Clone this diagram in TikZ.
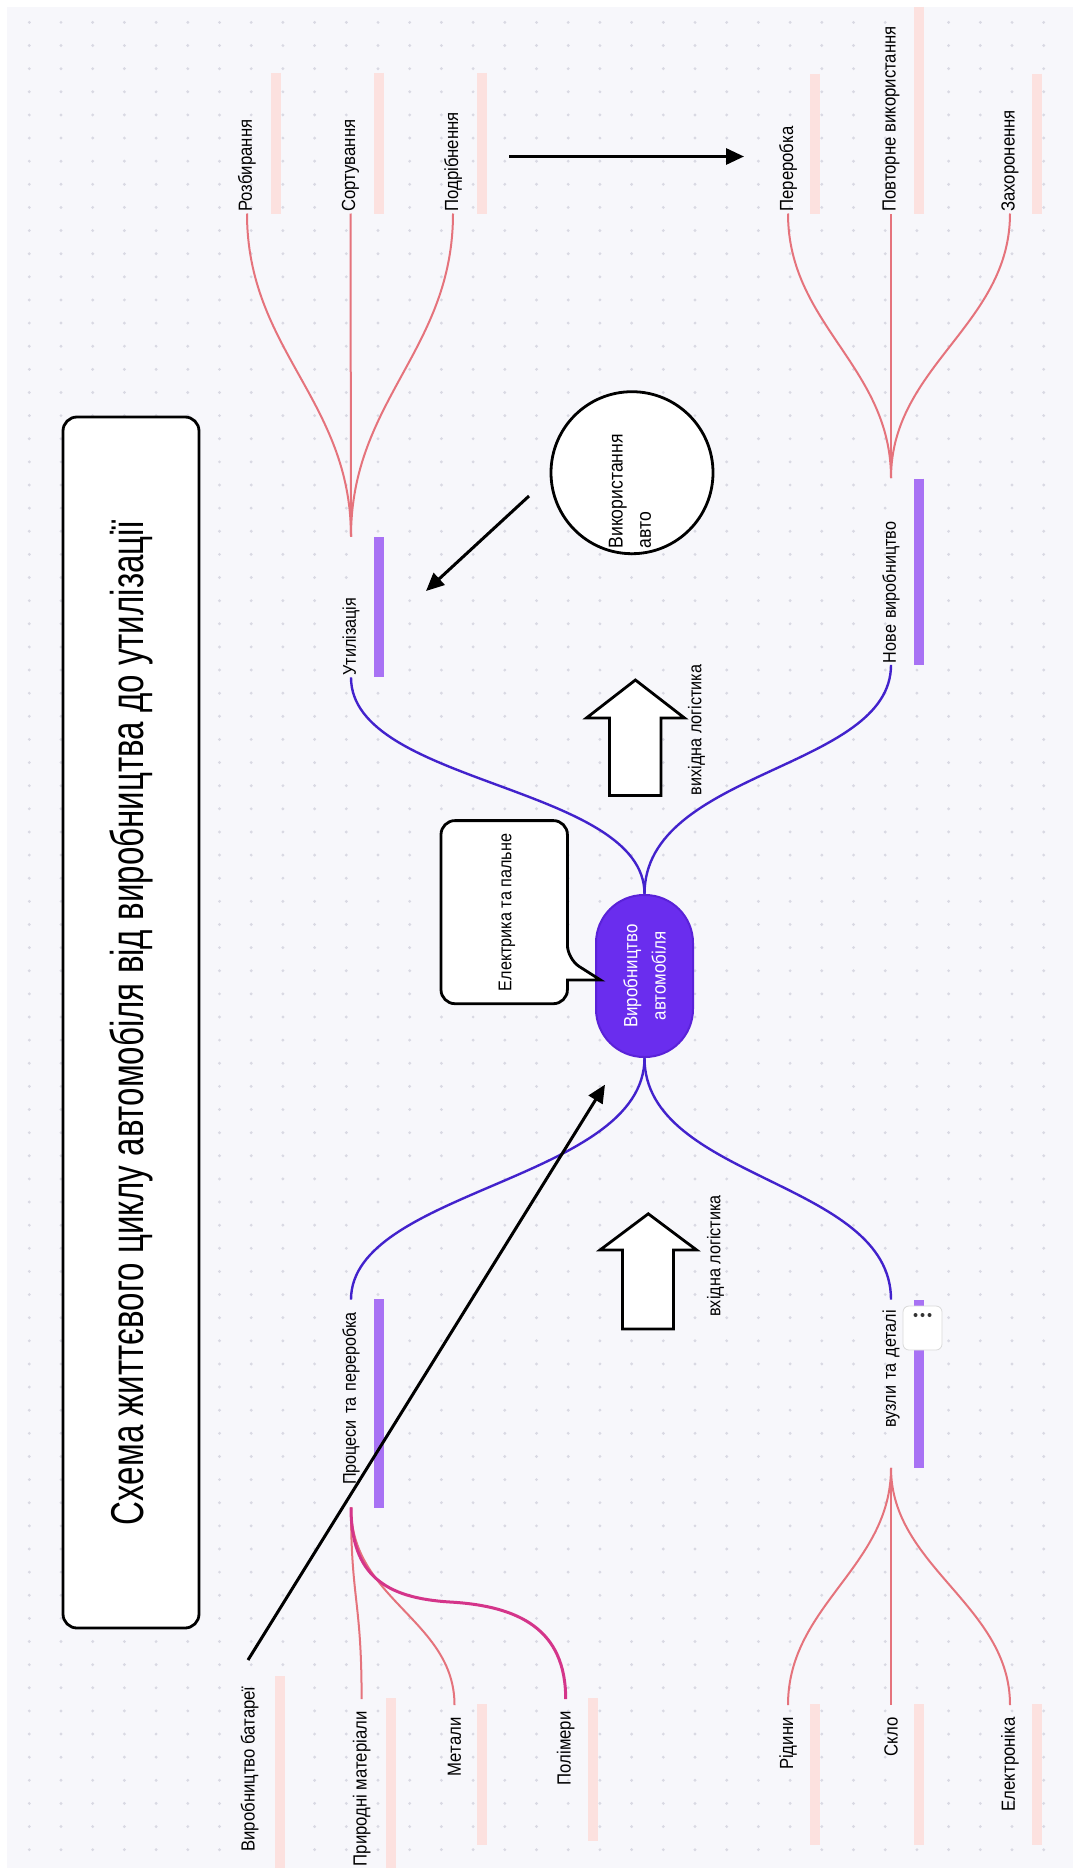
\documentclass[tikz,border=0pt]{standalone}
\usepackage{fontspec}
\setmainfont{Liberation Sans}[FakeStretch=0.88]
\newfontfamily\titlefont{Liberation Sans}[FakeStretch=0.72]
\usepackage{tikz}
\usetikzlibrary{arrows.meta,calc}

\definecolor{canvas}{HTML}{F7F7FB}
\definecolor{griddot}{HTML}{D9D9E3}
\definecolor{trunkblue}{HTML}{4222CC}
\definecolor{hubfill}{HTML}{6A2DEE}
\definecolor{hubdraw}{HTML}{5A22D8}
\definecolor{midbar}{HTML}{A872F4}
\definecolor{twig}{HTML}{E5737C}
\definecolor{twigdark}{HTML}{D4358A}
\definecolor{leafbar}{HTML}{FCE1DF}

\tikzset{
    labelfont/.style={font=\fontsize{9.5}{11}\selectfont},
    midfont/.style={font=\fontsize{9.2}{11}\selectfont},
    hubnode/.style={rotate=90,align=center,inner sep=0pt,fill=hubfill,draw=hubdraw,line width=1pt,
        rounded corners=24pt,minimum width=81pt,minimum height=48.5pt,text=white,
        font=\fontsize{9.6}{14.2}\selectfont},
    midnode/.style={rotate=90,midfont,inner ysep=0pt},
    upmid/.style={midnode,inner xsep=0.75pt,align=left,text width=#1},
    lowmid/.style={midnode,inner xsep=#1,align=right},
    upleaf/.style={rotate=90,labelfont,anchor=west,inner xsep=0.75pt,inner ysep=0pt},
    lowleaf/.style={rotate=90,labelfont,anchor=east,inner xsep=6pt,inner ysep=0pt},
    sidelabel/.style={rotate=90,midfont,anchor=west,inner sep=0pt},
    titlebox/.style={rotate=90,draw,line width=1.4pt,fill=white,rounded corners=7pt,
        minimum width=605.5pt,minimum height=68pt,font=\titlefont\fontsize{23}{28}\selectfont},
    usecircle/.style={circle,draw,line width=1.4pt,fill=white,minimum size=81pt,inner sep=0pt},
    usetext/.style={rotate=90,align=left,text width=67.5pt,inner sep=0pt,
        font=\fontsize{10}{14.2}\selectfont},
    outline/.style={draw,line width=1.4pt,fill=white},
    morebtn/.style={draw=black!15,fill=white,rounded corners=3pt,minimum width=19.5pt,minimum height=22pt},
    trunk/.style={draw=trunkblue,line width=1.2pt},
    twig/.style={draw=twig,line width=1pt},
    twigdark/.style={draw=twigdark,line width=1.5pt},
    midbarline/.style={draw=midbar,line width=5pt},
    leafbarline/.style={draw=leafbar,line width=5pt},
    flow/.style={->,line width=1.5pt}
}

\begin{document}
\begin{tikzpicture}[x=0.5pt,y=-0.5pt,>={Triangle[length=9pt,width=8pt]}]

\useasboundingbox (0,0) rectangle (1073,1868);
\fill[white] (0,0) rectangle (1073,1868);
\fill[canvas] (7,7) rectangle (1073,1868);
\foreach \i in {0,...,32}
    \foreach \j in {0,...,79}
        \fill[griddot] ({29.3+31.7*\i},{22.4+23.13*\j}) circle (0.8pt);

% underline bars
\foreach \bx/\ya/\yb in {276/73/213.5,379/73/213.5,482/73/213.5,815/74/213.5,918.75/7/213.5,1037/74/213.5,
    280/1676/1868,391/1698/1868,482/1704/1844.5,593/1698/1841,815/1704/1844.5,918.75/1704/1844.5,1037/1704/1844.5}
    \draw[leafbarline] (\bx,\ya) -- (\bx,\yb);
\foreach \bx/\ya/\yb in {379/537/677,918.75/478.6/664.5,379/1299/1508,918.75/1300/1467.5}
    \draw[midbarline] (\bx,\ya) -- (\bx,\yb);

\node[titlebox] (title) at (131,1022.5) {Схема життєвого циклу автомобіля від виробництва до утилізації};

\node[hubnode] (hub) at (644.5,976) {Виробництво\\автомобіля};

\node[upmid=68.5pt] (util) at (351,607) {Утилізація};
\node[upmid=91.5pt] (nove) at (891,571.5) {Нове виробництво};
\node[lowmid=6pt,text width=91.5pt] (proc) at (351,1403.5) {Процеси та переробка};
\node[lowmid=5pt,text width=73.75pt] (vuzly) at (891,1383.75) {вузли та деталі};

\node[upleaf] (razb) at (247,213.5) {Розбирання};
\node[upleaf] (sort) at (350.5,213.5) {Сортування};
\node[upleaf] (podr) at (453,213.5) {Подрібнення};
\node[upleaf] (pererob) at (788,213.5) {Переробка};
\node[upleaf] (povt) at (891,213.5) {Повторне використання};
\node[upleaf] (zahor) at (1010,213.5) {Захоронення};

\node[lowleaf] (batt) at (249.7,1674) {Виробництво батареї};
\node[lowleaf] (pryr) at (361.6,1699) {Природні матеріали};
\node[lowleaf] (metal) at (454.5,1705) {Метали};
\node[lowleaf] (polym) at (565.7,1699) {Полімери};
\node[lowleaf] (ridyny) at (788,1705) {Рідини};
\node[lowleaf] (sklo) at (891,1705) {Скло};
\node[lowleaf] (elektr) at (1010,1705) {Електроніка};

\draw[trunk] (hub.east) .. controls (644.5,785) and (351,785) .. (util.west);
\draw[trunk] (hub.east) .. controls (644.5,770) and (891,770) .. (nove.west);
\draw[trunk] (hub.west) .. controls (644.5,1180) and (351,1190) .. (proc.east);
\draw[trunk] (hub.west) .. controls (644.5,1180) and (891,1180) .. (vuzly.east);

\draw[twig] (util.east) .. controls (351,400) and (247,350) .. (razb.west);
\draw[twig] (util.east) -- (sort.west);
\draw[twig] (util.east) .. controls (351,400) and (453,350) .. (podr.west);
\draw[twig] (nove.east) .. controls (891,366) and (788,325) .. (pererob.west);
\draw[twig] (nove.east) -- (povt.west);
\draw[twig] (nove.east) .. controls (891,366) and (1010,325) .. (zahor.west);
\draw[twig] (proc.west) .. controls (351,1600) and (361.6,1600) .. (pryr.east);
\draw[twig] (proc.west) .. controls (351,1600) and (454.5,1620) .. (metal.east);
\draw[twigdark] (proc.west) .. controls (351,1575) and (385,1598) .. (450,1602)
    .. controls (520,1606) and (565.7,1630) .. (polym.east);
\draw[twig] (vuzly.west) .. controls (891,1567) and (788,1605) .. (ridyny.east);
\draw[twig] (vuzly.west) -- (sklo.east);
\draw[twig] (vuzly.west) .. controls (891,1567) and (1010,1605) .. (elektr.east);

\node[morebtn] (more) at (922.5,1328) {};
\foreach \dx in {-7,0,7}
    \fill[black!80] ($(more.center)+(\dx,-13)$) circle (1pt);

% callout
\draw[outline] (441,835) [rounded corners=7pt] -- (441,820.6) -- (567.4,820.6) -- (567.4,959)
    [sharp corners] -- (600.5,980) -- (567.4,980) [rounded corners=7pt] -- (567.4,1003.7)
    -- (441,1003.7) -- (441,835);
\node[sidelabel,anchor=center] (fuel) at (507,912.5) {Електрика та пальне};

\node[usecircle] (carus) at (632,472.7) {};
\node[usetext] (carustext) at (630,481) {Використання\\авто};

% logistics arrows
\draw[outline] (609.4,795.4) -- (609.4,718) -- (586.4,718) -- (635.4,680) -- (684.5,718)
    -- (661,718) -- (661,795.4) -- cycle;
\node[sidelabel] (outlog) at (696.6,795.4) {вихідна логістика};
\draw[outline] (622.5,1329) -- (622.5,1250) -- (600,1250) -- (648.3,1213.8) -- (696.6,1250)
    -- (673.5,1250) -- (673.5,1329) -- cycle;
\node[sidelabel] (inlog) at (715.5,1317) {вхідна логістика};

\coordinate (flowa) at (509,156.5);
\coordinate (flowb) at (744,156.5);
\coordinate (usetail) at (529,496);
\coordinate (usehead) at (426,591);
\coordinate (batttail) at (248,1660);
\coordinate (batthead) at (605,1084.6);
\draw[flow] (flowa) -- (flowb);
\draw[flow] (usetail) -- (usehead);
\draw[flow] (batttail) -- (batthead);

\end{tikzpicture}
\end{document}
